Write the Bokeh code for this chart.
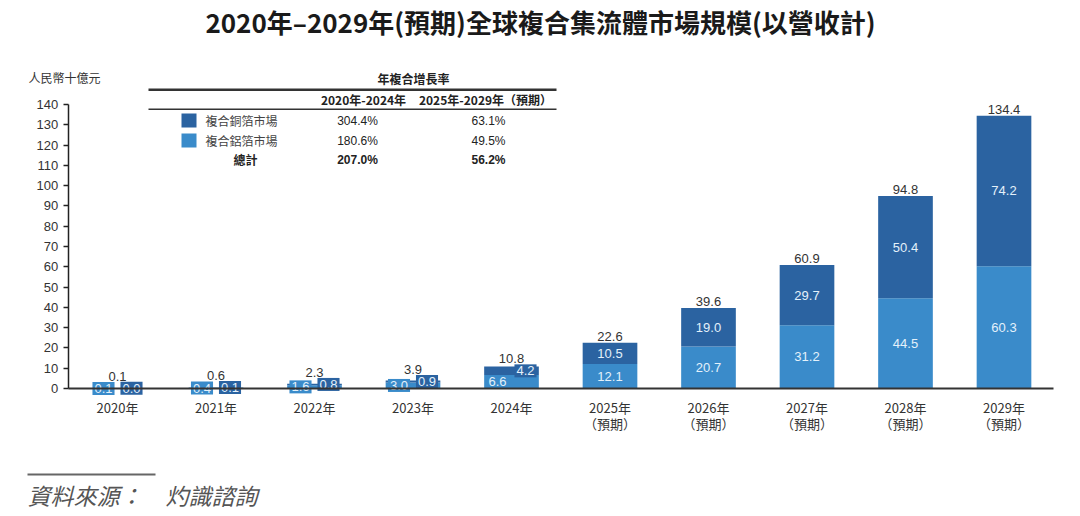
from bokeh.plotting import figure
from bokeh.models import ColumnDataSource, Range1d, FixedTicker, Label, BoxAnnotation
from bokeh.core.properties import value
from bokeh.embed import file_html
from bokeh.resources import INLINE

# ---------------- data ----------------
year_labels = ["2020年", "2021年", "2022年", "2023年", "2024年",
               "2025年\n（預期）", "2026年\n（預期）", "2027年\n（預期）",
               "2028年\n（預期）", "2029年\n（預期）"]
aluminum = [0.1, 0.4, 1.6, 3.0, 6.6, 12.1, 20.7, 31.2, 44.5, 60.3]   # 複合鋁箔市場
copper = [0.0, 0.1, 0.8, 0.9, 4.2, 10.5, 19.0, 29.7, 50.4, 74.2]     # 複合銅箔市場
totals = [0.1, 0.6, 2.3, 3.9, 10.8, 22.6, 39.6, 60.9, 94.8, 134.4]
y_ticks = list(range(0, 141, 10))

cagr_title = "年複合增長率"
cagr_headers = ["2020年-2024年", "2025年-2029年（預期）"]
cagr_rows = ["複合銅箔市場", "複合鋁箔市場", "總計"]
cagr_2020_2024 = ["304.4%", "180.6%", "207.0%"]
cagr_2025_2029 = ["63.1%", "49.5%", "56.2%"]

title_text = "2020年–2029年(預期)全球複合集流體市場規模(以營收計)"
y_unit = "人民幣十億元"
source_text = "資料來源：\u3000灼識諮詢"

DARK = "#2B63A1"
LIGHT = "#3A8BCA"
LABEL_IN = "#E4F1FB"
TXT = "#333333"
NUM_FONT = "Liberation Sans"
CJK_FONT = "Noto Sans CJK TC"

# ---------------- layout (pixels) ----------------
W, H = 1064, 514
X0_PX, STEP_PX = 117.0, 98.5       # centre of first category, spacing
Y0_PX, PX_PER_UNIT = 388.0, 284.0 / 140.0

xpos = list(range(len(year_labels)))
x_start = -X0_PX / STEP_PX
x_end = x_start + W / STEP_PX
y_end = Y0_PX / PX_PER_UNIT
y_start = -(H - Y0_PX) / PX_PER_UNIT

p = figure(x_range=Range1d(x_start, x_end), y_range=Range1d(y_start, y_end),
           width=W, height=H, output_backend="svg", toolbar_location=None,
           min_border=0, min_border_left=0, min_border_right=0,
           min_border_top=0, min_border_bottom=0)
p.outline_line_color = None
p.xgrid.grid_line_color = None
p.ygrid.grid_line_color = None
p.background_fill_color = "white"
p.border_fill_color = "white"

# axes placed inside the frame
p.yaxis.fixed_location = -0.5
p.yaxis.bounds = (0, 140)
p.yaxis.ticker = FixedTicker(ticks=y_ticks)
p.yaxis.major_tick_out = 5
p.yaxis.major_tick_in = 0
p.yaxis.minor_tick_line_color = None
p.yaxis.axis_line_color = "#222222"
p.yaxis.axis_line_width = 1.5
p.yaxis.major_tick_line_color = "#222222"
p.yaxis.major_tick_line_width = 1.5
p.yaxis.major_label_text_font_size = "13px"
p.yaxis.major_label_text_color = TXT
p.yaxis.major_label_text_font = NUM_FONT
p.yaxis.major_label_standoff = 5

p.xaxis.fixed_location = 0
p.xaxis.bounds = (-0.5, len(year_labels) - 0.5)
p.xaxis.ticker = FixedTicker(ticks=xpos)
p.xaxis.major_label_overrides = {i: lbl for i, lbl in zip(xpos, year_labels)}
p.xaxis.major_tick_line_color = None
p.xaxis.minor_tick_line_color = None
p.xaxis.axis_line_color = "#333333"
p.xaxis.axis_line_width = 2
p.xaxis.major_label_text_font_size = "13px"
p.xaxis.major_label_text_color = TXT
p.xaxis.major_label_text_font = CJK_FONT
p.xaxis.major_label_text_line_height = 0.85
p.xaxis.major_label_standoff = 3

# bars
src = ColumnDataSource(dict(x=xpos, aluminum=aluminum, copper=copper))
p.vbar_stack(["aluminum", "copper"], x="x", width=0.555, color=[LIGHT, DARK],
             line_width=0, source=src)

# segment labels
n_small = 5
big = dict(x=[], y=[], t=[])
for i in range(n_small, len(xpos)):
    big["x"] += [xpos[i], xpos[i]]
    big["y"] += [aluminum[i] / 2, aluminum[i] + copper[i] / 2]
    big["t"] += [f"{aluminum[i]:.1f}", f"{copper[i]:.1f}"]
p.text(x="x", y="y", text="t", source=ColumnDataSource(big),
       text_align="center", text_baseline="middle", text_color=LABEL_IN,
       text_font_size="13px", text_font=value(NUM_FONT))

sm_al = dict(x=xpos[:n_small],
             y=[aluminum[i] / 2 for i in range(n_small)],
             t=[f"{aluminum[i]:.1f}" for i in range(n_small)])
sm_cu = dict(x=xpos[:n_small],
             y=[aluminum[i] + copper[i] / 2 for i in range(n_small)],
             t=[f"{copper[i]:.1f}" for i in range(n_small)])
p.text(x="x", y="y", text="t", source=ColumnDataSource(sm_al), x_offset=-14,
       text_align="center", text_baseline="middle", text_color=LABEL_IN,
       text_font_size="13px", text_font=value(NUM_FONT),
       background_fill_color=LIGHT, padding=2)
p.text(x="x", y="y", text="t", source=ColumnDataSource(sm_cu), x_offset=14,
       text_align="center", text_baseline="middle", text_color=LABEL_IN,
       text_font_size="13px", text_font=value(NUM_FONT),
       background_fill_color=DARK, padding=2)

# total labels (kept clear of the small boxed labels)
BOX_HALF = 2.8
tot_y = [max(totals[i], aluminum[i] + copper[i] / 2 + BOX_HALF) for i in range(len(xpos))]
tot = dict(x=xpos, y=tot_y, t=[f"{t:.1f}" for t in totals])
p.text(x="x", y="y", text="t", source=ColumnDataSource(tot), y_offset=-2,
       text_align="center", text_baseline="bottom", text_color=TXT,
       text_font_size="13px", text_font=value(NUM_FONT))


# ---------------- annotations (screen units, frame == canvas) ----------------
def lab(text, px, py, size="12px", align="left", baseline="middle", color=TXT,
        style="normal", font=CJK_FONT):
    p.add_layout(Label(x=px, y=H - py, x_units="screen", y_units="screen",
                       text=text, text_font_size=size, text_align=align,
                       text_baseline=baseline, text_color=color,
                       text_font_style=style, text_font=font))


def box(x0, x1, y0, y1, color):
    p.add_layout(BoxAnnotation(left=x0, right=x1, top=H - y0, bottom=H - y1,
                               left_units="screen", right_units="screen",
                               top_units="screen", bottom_units="screen",
                               fill_color=color, fill_alpha=1, line_color=None))


# title
lab(title_text, 540, 21, size="26px", align="center", color="#1A1A1A", style="bold")
# y unit
lab(y_unit, 28, 77, size="12px", color=TXT)

# CAGR table
lab(cagr_title, 413, 78, size="12px", align="center", color="#222222", style="bold")
box(148, 556, 88, 90.5, "#333333")
box(148, 556, 108, 109.5, "#333333")
lab(cagr_headers[0], 363, 99, size="12px", align="center", color="#222222", style="bold")
lab(cagr_headers[1], 485, 99, size="12px", align="center", color="#222222", style="bold")
row_y = [120, 140, 159]
swatches = [DARK, LIGHT]
for k in range(3):
    if k < 2:
        box(181, 196, row_y[k] - 7, row_y[k] + 7, swatches[k])
        lab(cagr_rows[k], 205, row_y[k], size="12px", color="#444444")
        st = "normal"
    else:
        lab(cagr_rows[k], 245, row_y[k], size="12px", align="center", color="#222222", style="bold")
        st = "bold"
    lab(cagr_2020_2024[k], 357, row_y[k], size="12px", align="center", color="#222222",
        style=st, font=NUM_FONT)
    lab(cagr_2025_2029[k], 488, row_y[k], size="12px", align="center", color="#222222",
        style=st, font=NUM_FONT)

# source
box(27, 155, 473, 475, "#666666")
lab(source_text, 27, 494, size="23px", color="#555555", style="italic")

open("out.html", "w").write(file_html(p, INLINE))
